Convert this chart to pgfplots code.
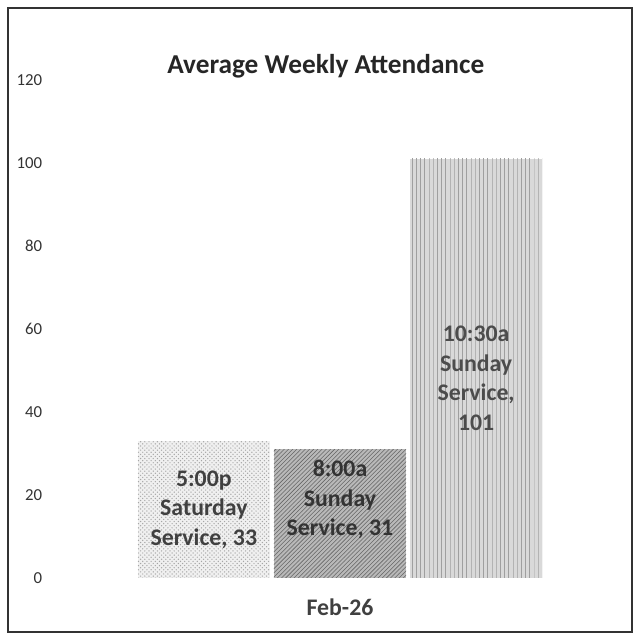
\documentclass[border=0pt]{standalone}
\usepackage{pgfplots}
\pgfplotsset{compat=1.18}
\usepackage{fontspec}
\setmainfont{Carlito}
\usetikzlibrary{patterns}
\definecolor{txt}{HTML}{404040}
\begin{document}
\begin{tikzpicture}[x=1cm,y=1cm]
\path[use as bounding box] (-1.633,-1.482) rectangle (14.368,14.518);
\begin{axis}[
  at={(0,0)}, anchor=south west,
  scale only axis,
  width=13.815cm, height=12.509cm,
  xmin=-2.02, xmax=2.02,
  ymin=0, ymax=120,
  ytick={0,20,...,120},
  xtick={0}, xticklabels={Feb-26},
  axis line style={draw=none},
  major tick length=0pt,
  /pgf/number format/assume math mode=true,
  yticklabel style={font=\fontsize{12}{14}\selectfont, text=black!80, xshift=-0.45cm},
  xticklabel style={font=\fontsize{17}{20}\selectfont\bfseries, text=txt, yshift=-0.4cm},
  ybar, bar width=0.97, bar shift=0pt,
  visualization depends on=y \as \valy,
  nodes near coords style={anchor=center, align=center, font=\fontsize{17}{21}\selectfont\bfseries, yshift={-0.05212cm*\valy}},
  clip=false,
]
\addplot[fill=gray!12, draw=none, bar shift=0pt, postaction={pattern=crosshatch dots, pattern color=gray!70},
  nodes near coords={5:00p\\Saturday\\Service, 33}, nodes near coords style={text=txt}]
  coordinates {(-1,33)};
\addplot[fill=gray!55, draw=none, bar shift=0pt, postaction={pattern=north east lines, pattern color=black!60},
  nodes near coords={8:00a\\Sunday\\Service, 31}, nodes near coords style={text=black!80, yshift=0.35cm}]
  coordinates {(0,31)};
\addplot[fill=gray!30, draw=none, bar shift=0pt, postaction={pattern=vertical lines, pattern color=gray!75},
  nodes near coords={10:30a\\Sunday\\Service,\\101}, nodes near coords style={text=black!70, yshift=-0.25cm}]
  coordinates {(1,101)};
\end{axis}
\draw[black!80, line width=1.2pt] (-1.432,-1.356) rectangle (14.242,14.317);
\node[font=\fontsize{19.5}{23}\selectfont\bfseries, text=black!85] at (6.55,12.85) {Average Weekly Attendance};
\end{tikzpicture}
\end{document}
